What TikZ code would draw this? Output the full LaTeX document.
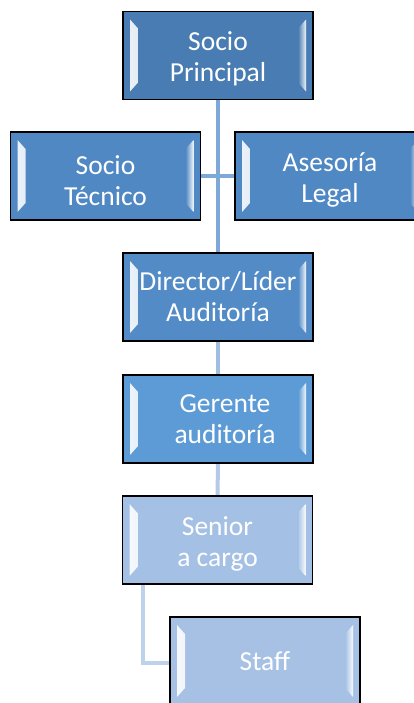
\documentclass[tikz,border=0pt]{standalone}
\usepackage{fontspec}
\setmainfont{Carlito}
\usetikzlibrary{calc}
\pgfdeclarelayer{bg}
\pgfsetlayers{bg,main}
\definecolor{cA}{RGB}{72,124,178}
\definecolor{cB}{RGB}{80,136,196}
\definecolor{cC}{RGB}{82,139,198}
\definecolor{cD}{RGB}{92,155,213}
\definecolor{cE}{RGB}{164,192,228}
\definecolor{cF}{RGB}{166,193,228}
\definecolor{lnA}{RGB}{126,168,216}
\definecolor{lnB}{RGB}{160,190,226}
\definecolor{lnC}{RGB}{180,202,232}
\definecolor{lnD}{RGB}{190,210,236}
\newcommand{\boxtxt}[2]{\raisebox{-#1pt}[\height][\depth]{\begin{tabular}{@{}c@{}}#2\end{tabular}}}
\tikzset{
  orgbox/.style={rectangle, draw=black, line width=1.6pt, fill=#1,
    minimum width=190pt, minimum height=88pt, inner sep=0pt,
    text=white, align=center, font=\fontsize{27.5}{31}\selectfont,
    path picture={
      \shade[left color=white!92!#1, right color=#1]
        ($(path picture bounding box.north west)+(7pt,-8pt)$) --
        ($(path picture bounding box.north west)+(15pt,-17pt)$) --
        ($(path picture bounding box.south west)+(15pt,17pt)$) --
        ($(path picture bounding box.south west)+(7pt,8pt)$) -- cycle;
      \shade[right color=white!92!#1, left color=#1]
        ($(path picture bounding box.north east)+(-7pt,-8pt)$) --
        ($(path picture bounding box.north east)+(-15pt,-17pt)$) --
        ($(path picture bounding box.south east)+(-15pt,17pt)$) --
        ($(path picture bounding box.south east)+(-7pt,8pt)$) -- cycle;
    }},
  conn/.style={line width=4pt, draw=#1}
}
\begin{document}
\begin{tikzpicture}[x=1pt,y=-1pt]
\useasboundingbox (0,0) rectangle (414,703);
\clip (0,0) rectangle (414,703);
\coordinate (sk) at (143,663);
\node[orgbox=cA] (sp) at (218,55.5) {\boxtxt{4}{Socio\\Principal}};
\node[orgbox=cB] (tec) at (105.5,176) {\boxtxt{8}{Socio\\Técnico}};
\node[orgbox=cB] (al) at (330,176) {\boxtxt{5}{Asesoría\\Legal}};
\node[orgbox=cC] (dir) at (218,297) {\boxtxt{3}{Director/Líder\\Auditoría}};
\node[orgbox=cD] (ger) at (218,419) {\hspace*{14pt}\boxtxt{3}{Gerente\\auditoría}};
\node[orgbox=cE] (sen) at (217.5,540) {\boxtxt{5}{Senior\\a cargo}};
\node[orgbox=cF] (stf) at (265,661) {Staff};
\begin{pgfonlayer}{bg}
\draw[conn=lnA] (sp.south) -- (dir.north);
\draw[conn=lnA] (tec.east) -- (al.west);
\draw[conn=lnB] (dir.south) -- (ger.north);
\draw[conn=lnC] (ger.south) -- (sen.north);
\draw[conn=lnD] (sen.south -| sk) -- (sk) -- (stf.west |- sk);
\end{pgfonlayer}
\end{tikzpicture}
\end{document}
